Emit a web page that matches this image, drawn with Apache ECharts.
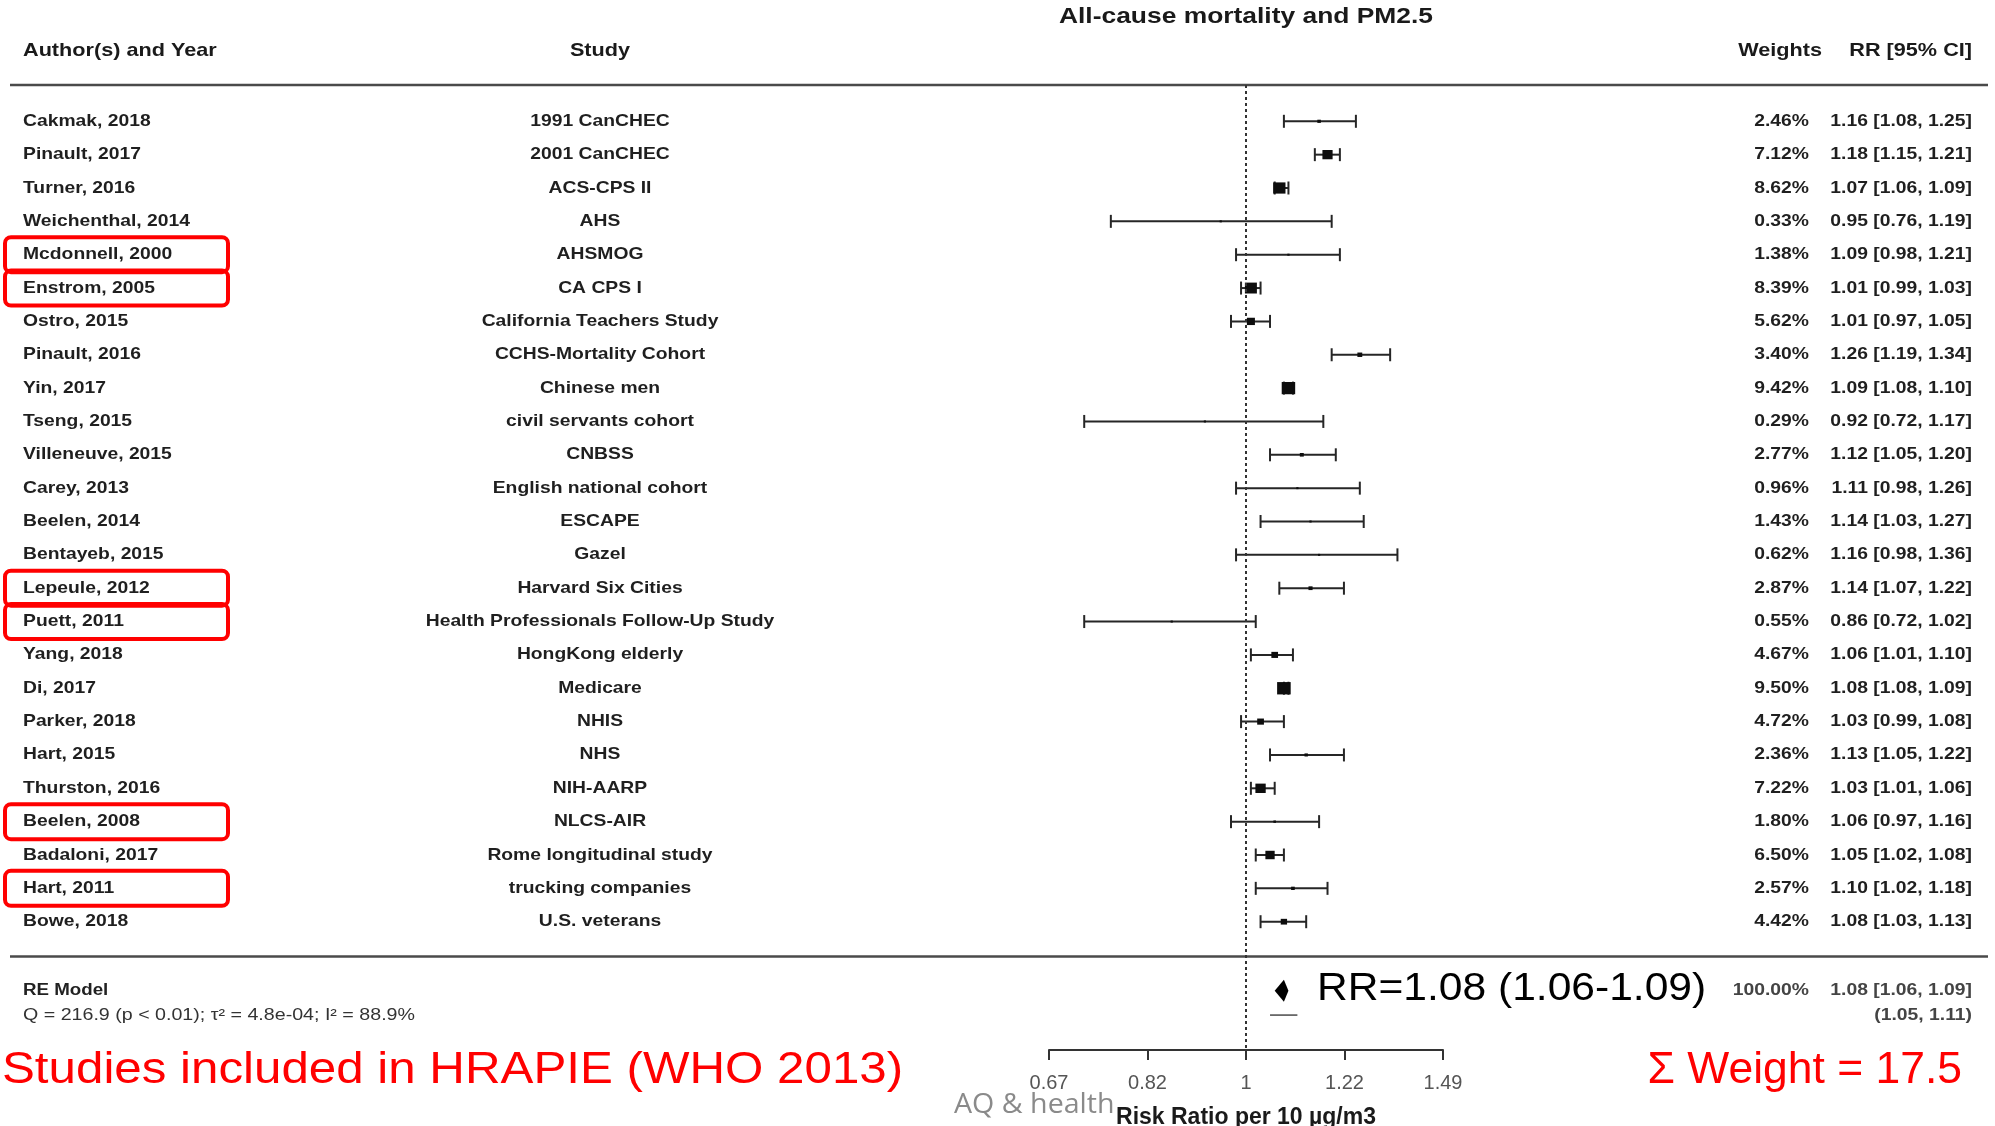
<!DOCTYPE html>
<html>
<head>
<meta charset="utf-8">
<title>All-cause mortality and PM2.5</title>
<script src="https://cdn.jsdelivr.net/npm/echarts@6/dist/echarts.min.js"></script>
<style>
  html, body { margin: 0; padding: 0; background: #ffffff; }
  #chart { width: 1995px; height: 1126px; }
</style>
</head>
<body>
<div id="chart"></div>
<script>
// ---- Study-level data (risk ratio per 10 µg/m3 PM2.5) ----
const authors = [
  'Cakmak, 2018', 'Pinault, 2017', 'Turner, 2016', 'Weichenthal, 2014', 'Mcdonnell, 2000',
  'Enstrom, 2005', 'Ostro, 2015', 'Pinault, 2016', 'Yin, 2017', 'Tseng, 2015',
  'Villeneuve, 2015', 'Carey, 2013', 'Beelen, 2014', 'Bentayeb, 2015', 'Lepeule, 2012',
  'Puett, 2011', 'Yang, 2018', 'Di, 2017', 'Parker, 2018', 'Hart, 2015',
  'Thurston, 2016', 'Beelen, 2008', 'Badaloni, 2017', 'Hart, 2011', 'Bowe, 2018'
];
const studies = [
  '1991 CanCHEC', '2001 CanCHEC', 'ACS-CPS II', 'AHS', 'AHSMOG',
  'CA CPS I', 'California Teachers Study', 'CCHS-Mortality Cohort', 'Chinese men', 'civil servants cohort',
  'CNBSS', 'English national cohort', 'ESCAPE', 'Gazel', 'Harvard Six Cities',
  'Health Professionals Follow-Up Study', 'HongKong elderly', 'Medicare', 'NHIS', 'NHS',
  'NIH-AARP', 'NLCS-AIR', 'Rome longitudinal study', 'trucking companies', 'U.S. veterans'
];
const weights = [2.46, 7.12, 8.62, 0.33, 1.38, 8.39, 5.62, 3.40, 9.42, 0.29, 2.77, 0.96, 1.43, 0.62, 2.87,
                 0.55, 4.67, 9.50, 4.72, 2.36, 7.22, 1.80, 6.50, 2.57, 4.42];
const rr      = [1.16, 1.18, 1.07, 0.95, 1.09, 1.01, 1.01, 1.26, 1.09, 0.92, 1.12, 1.11, 1.14, 1.16, 1.14,
                 0.86, 1.06, 1.08, 1.03, 1.13, 1.03, 1.06, 1.05, 1.10, 1.08];
const ciLow   = [1.08, 1.15, 1.06, 0.76, 0.98, 0.99, 0.97, 1.19, 1.08, 0.72, 1.05, 0.98, 1.03, 0.98, 1.07,
                 0.72, 1.01, 1.08, 0.99, 1.05, 1.01, 0.97, 1.02, 1.02, 1.03];
const ciHigh  = [1.25, 1.21, 1.09, 1.19, 1.21, 1.03, 1.05, 1.34, 1.10, 1.17, 1.20, 1.26, 1.27, 1.36, 1.22,
                 1.02, 1.10, 1.09, 1.08, 1.22, 1.06, 1.16, 1.08, 1.18, 1.13];
// studies that were part of the HRAPIE (WHO 2013) review
const inHrapie = [0, 0, 0, 0, 1, 1, 0, 0, 0, 0, 0, 0, 0, 0, 1, 1, 0, 0, 0, 0, 0, 1, 0, 1, 0];

// ---- Random-effects summary ----
const pooledRR = 1.08, pooledLow = 1.06, pooledHigh = 1.09;
const predLow = 1.05, predHigh = 1.11;
const pooledWeight = 100.00;
const hrapieWeight = 17.5;

// ---- Axis (log scale drawn as ln(RR)) ----
const tickLabels = ['0.67', '0.82', '1', '1.22', '1.49'];

// ---- Layout constants ----
const FONT = '"Liberation Sans", Arial, Helvetica, sans-serif';
const SX = 1.17;               // horizontal stretch of the forest-plot lettering
const COL = { author: 23, study: 600, weight: 1809, ci: 1972 };
const ROW_MIN = -1.0885, ROW_MAX = 27.847;
const TOP_RULE = ROW_MIN, BOTTOM_RULE = 25.04;
const SUMMARY_ROW = 26.07, PRED_ROW = 26.8;
const ROW_COLOR = '#1f1f1f';

const fmt = v => v.toFixed(2);

const barData = rr.map((v, i) => [Math.log(ciLow[i]), Math.log(ciHigh[i]), Math.log(v), i, weights[i]]);
const textData = authors.map((a, i) => [0, i]);
const boxData = inHrapie.map((f, i) => [0, i]).filter((d, i) => inHrapie[i]);

const chart = echarts.init(document.getElementById('chart'), null, { renderer: 'canvas' });

function rowText(params, api) {
  const i = params.dataIndex;
  const y = api.coord([0, api.value(1)])[1];
  const font = 'bold 16.5px ' + FONT;
  const mk = (text, x, align) => ({
    type: 'text', x: x, y: y, scaleX: SX,
    style: { text: text, font: font, fill: ROW_COLOR, align: align, verticalAlign: 'middle' }
  });
  return {
    type: 'group',
    children: [
      mk(authors[i], COL.author, 'left'),
      mk(studies[i], COL.study, 'center'),
      mk(fmt(weights[i]) + '%', COL.weight, 'right'),
      mk(fmt(rr[i]) + ' [' + fmt(ciLow[i]) + ', ' + fmt(ciHigh[i]) + ']', COL.ci, 'right')
    ]
  };
}

function errorBar(params, api) {
  const row = api.value(3);
  const pL = api.coord([api.value(0), row]);
  const pH = api.coord([api.value(1), row]);
  const pE = api.coord([api.value(2), row]);
  const w = api.value(4);
  const h = Math.max(2, w * 1.3);
  const cap = 6.5;
  const line = { stroke: '#262626', lineWidth: 2 };
  return {
    type: 'group',
    children: [
      { type: 'line', shape: { x1: pL[0], y1: pL[1], x2: pH[0], y2: pH[1] }, style: line },
      { type: 'line', shape: { x1: pL[0], y1: pL[1] - cap, x2: pL[0], y2: pL[1] + cap }, style: line },
      { type: 'line', shape: { x1: pH[0], y1: pH[1] - cap, x2: pH[0], y2: pH[1] + cap }, style: line },
      { type: 'rect', shape: { x: pE[0] - h * 0.55, y: pE[1] - h / 2, width: h * 1.1, height: h },
        style: { fill: '#0d0d0d' } }
    ]
  };
}

function hrapieBox(params, api) {
  const y = api.coord([0, api.value(1)])[1];
  return {
    type: 'rect',
    shape: { x: 5, y: y - 17.5, width: 223, height: 35, r: 6 },
    style: { fill: 'none', stroke: '#ff0000', lineWidth: 4 }
  };
}

function separator(params, api) {
  const y = api.coord([0, api.value(1)])[1];
  return {
    type: 'line',
    shape: { x1: 10, y1: y, x2: 1988, y2: y },
    style: { stroke: '#4a4a4a', lineWidth: 2.5 }
  };
}

function summaryDiamond(params, api) {
  const row = api.value(3);
  const pL = api.coord([api.value(0), row]);
  const pH = api.coord([api.value(1), row]);
  const pE = api.coord([api.value(2), row]);
  const hh = 11;
  return {
    type: 'polygon',
    shape: { points: [[pL[0], pE[1]], [pE[0], pE[1] - hh], [pH[0], pE[1]], [pE[0], pE[1] + hh]] },
    style: { fill: '#000000' }
  };
}

function predictionLine(params, api) {
  const pL = api.coord([api.value(0), api.value(2)]);
  const pH = api.coord([api.value(1), api.value(2)]);
  return {
    type: 'line',
    shape: { x1: pL[0], y1: pL[1], x2: pH[0], y2: pH[1] },
    style: { stroke: '#555555', lineWidth: 1.6 }
  };
}

function summaryText(params, api) {
  const y = api.coord([0, api.value(1)])[1];
  const yPI = api.coord([0, PRED_ROW])[1];
  const font = 'bold 16.5px ' + FONT;
  const st = (text, x, yy, align) => ({
    type: 'text', x: x, y: yy, scaleX: SX,
    style: { text: text, font: font, fill: '#444444', align: align, verticalAlign: 'middle' }
  });
  return {
    type: 'group',
    children: [
      st(fmt(pooledWeight) + '%', COL.weight, y, 'right'),
      st(fmt(pooledRR) + ' [' + fmt(pooledLow) + ', ' + fmt(pooledHigh) + ']', COL.ci, y, 'right'),
      st('(' + fmt(predLow) + ', ' + fmt(predHigh) + ')', COL.ci, yPI, 'right'),
      { type: 'text', x: COL.author, y: y, scaleX: SX,
        style: { text: 'RE Model', font: 'bold 16px ' + FONT, fill: '#222222', align: 'left', verticalAlign: 'middle' } },
      { type: 'text', x: COL.author, y: yPI, scaleX: 1.19,
        style: { text: 'Q = 216.9 (p < 0.01); τ² = 4.8e-04; I² = 88.9%', font: '16.5px ' + FONT,
                 fill: '#333333', align: 'left', verticalAlign: 'middle' } },
      { type: 'text', x: 1317, y: y - 1, scaleX: 1.12,
        style: { text: 'RR=' + fmt(pooledRR) + ' (' + fmt(pooledLow) + '-' + fmt(pooledHigh) + ')',
                 font: '38px ' + FONT, fill: '#000000', align: 'left', verticalAlign: 'middle' } }
    ]
  };
}

const option = {
  animation: false,
  backgroundColor: '#ffffff',
  grid: { left: 1049, right: 552, top: 85, bottom: 76, outerBoundsMode: 'none', containLabel: false },
  xAxis: {
    type: 'value',
    min: -0.4, max: 0.4, interval: 0.2,
    splitLine: { show: false },
    axisLine: { show: true, onZero: false, lineStyle: { color: '#333333', width: 2 } },
    axisTick: { show: true, inside: false, length: 10, lineStyle: { color: '#333333', width: 2 } },
    axisLabel: {
      margin: 23, fontSize: 20, color: '#555555', fontFamily: FONT,
      formatter: (v, idx) => tickLabels[idx]
    },
    name: 'Risk Ratio per 10 µg/m3',
    nameLocation: 'middle',
    nameGap: 56,
    nameTextStyle: { fontSize: 23, fontWeight: 'bold', color: '#1a1a1a', fontFamily: FONT }
  },
  yAxis: {
    type: 'value', inverse: true, min: ROW_MIN, max: ROW_MAX, show: false,
    splitLine: { show: false }
  },
  graphic: [
    { type: 'text', x: 1246, y: 17, scaleX: 1.2,
      style: { text: 'All-cause mortality and PM2.5', font: 'bold 22px ' + FONT, fill: '#1a1a1a',
               align: 'center', verticalAlign: 'middle' } },
    { type: 'text', x: COL.author, y: 51, scaleX: 1.14,
      style: { text: 'Author(s) and Year', font: 'bold 19px ' + FONT, fill: '#1a1a1a', align: 'left', verticalAlign: 'middle' } },
    { type: 'text', x: COL.study, y: 51, scaleX: 1.14,
      style: { text: 'Study', font: 'bold 19px ' + FONT, fill: '#1a1a1a', align: 'center', verticalAlign: 'middle' } },
    { type: 'text', x: 1822, y: 51, scaleX: 1.14,
      style: { text: 'Weights', font: 'bold 19px ' + FONT, fill: '#1a1a1a', align: 'right', verticalAlign: 'middle' } },
    { type: 'text', x: 1972, y: 51, scaleX: 1.14,
      style: { text: 'RR [95% CI]', font: 'bold 19px ' + FONT, fill: '#1a1a1a', align: 'right', verticalAlign: 'middle' } },
    { type: 'text', x: 2, y: 1071, scaleX: 1.12,
      style: { text: 'Studies included in HRAPIE (WHO 2013)', font: '44px ' + FONT, fill: '#ff0000',
               align: 'left', verticalAlign: 'middle' } },
    { type: 'text', x: 1962, y: 1071, scaleX: 1.01,
      style: { text: 'Σ Weight = ' + hrapieWeight, font: '44px ' + FONT, fill: '#ff0000',
               align: 'right', verticalAlign: 'middle' } },
    { type: 'text', x: 954, y: 1105, scaleX: 1.06, z: -1,
      style: { text: 'AQ & health', font: '27px "Open Sans", ' + FONT, fill: '#8a8a8a',
               align: 'left', verticalAlign: 'middle' } }
  ],
  series: [
    {
      name: 'separators', type: 'custom', clip: false, silent: true,
      encode: { x: 0, y: 1 },
      data: [[0, TOP_RULE], [0, BOTTOM_RULE]],
      renderItem: separator
    },
    {
      name: 'studies', type: 'custom', clip: false, silent: true,
      encode: { x: [0, 1, 2], y: 3 },
      data: barData,
      renderItem: errorBar,
      markLine: {
        silent: true, symbol: ['none', 'none'], label: { show: false },
        lineStyle: { type: [3, 3], color: '#333333', width: 2 },
        data: [{ xAxis: 0 }]
      }
    },
    {
      name: 'labels', type: 'custom', clip: false, silent: true,
      encode: { x: 0, y: 1 },
      data: textData,
      renderItem: rowText
    },
    {
      name: 'hrapie', type: 'custom', clip: false, silent: true,
      encode: { x: 0, y: 1 },
      data: boxData,
      renderItem: hrapieBox
    },
    {
      name: 'pooled', type: 'custom', clip: false, silent: true,
      encode: { x: [0, 1, 2], y: 3 },
      data: [[Math.log(pooledLow), Math.log(pooledHigh), Math.log(pooledRR), SUMMARY_ROW]],
      renderItem: summaryDiamond
    },
    {
      name: 'prediction', type: 'custom', clip: false, silent: true,
      encode: { x: [0, 1], y: 2 },
      data: [[Math.log(predLow), Math.log(predHigh), PRED_ROW]],
      renderItem: predictionLine
    },
    {
      name: 'summaryText', type: 'custom', clip: false, silent: true,
      encode: { x: 0, y: 1 },
      data: [[0, SUMMARY_ROW]],
      renderItem: summaryText
    }
  ]
};

chart.setOption(option);
</script>
</body>
</html>
